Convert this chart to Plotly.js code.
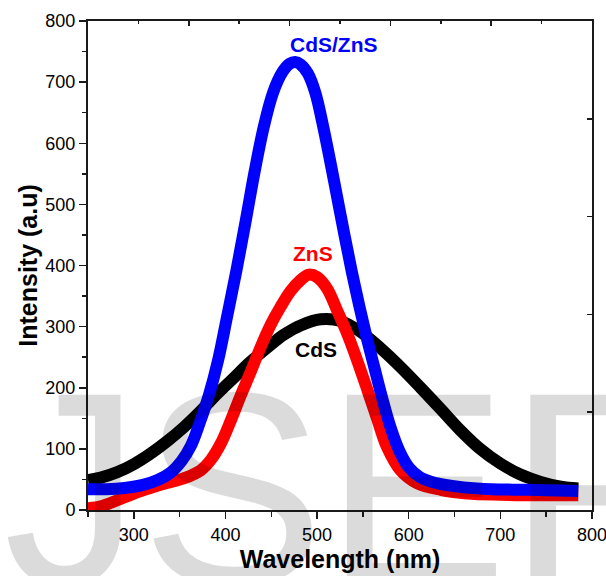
<!DOCTYPE html>
<html>
<head>
<meta charset="utf-8">
<script src="https://cdn.plot.ly/plotly-3.0.1.min.js"></script>
<style>
  html, body { margin: 0; padding: 0; background: #ffffff; }
  #chart { width: 606px; height: 576px; }
</style>
</head>
<body>
<div id="chart"></div>
<script>
// Wavelength (nm) and intensity (a.u.)
const cdsWavelength = [250, 264, 282, 300, 318, 336, 355, 373, 391, 409, 427, 446, 464, 482, 504, 526, 547, 569, 591, 613, 635, 656, 678, 700, 722, 744, 766, 785];
const cdsIntensity  = [49, 53, 62, 75, 92, 112, 136, 162, 190, 216, 242, 266, 287, 302, 312, 309, 292, 265, 234, 200, 165, 131, 100, 76, 58, 46, 38, 35];

const znsWavelength = [250, 264, 282, 300, 318, 336, 355, 373, 384, 395, 406, 416, 427, 438, 449, 460, 471, 482, 491, 500, 511, 522, 533, 542, 555, 566, 576, 591, 609, 635, 664, 700, 750, 785];
const znsIntensity  = [3, 6, 16, 27, 36, 44, 52, 65, 82, 109, 147, 185, 224, 265, 302, 332, 358, 376, 385, 381, 362, 326, 288, 252, 196, 147, 104, 65, 44, 33, 27, 25, 24, 24];

const coreShellWavelength = [250, 270, 290, 310, 326, 340, 352, 362, 372, 382, 392, 402, 412, 422, 432, 442, 452, 462, 470, 476, 482, 490, 498, 506, 514, 522, 530, 538, 546, 554, 562, 570, 580, 590, 600, 612, 625, 640, 660, 690, 730, 785];
const coreShellIntensity  = [34, 34, 36, 41, 49, 61, 80, 104, 143, 188, 245, 318, 392, 472, 555, 628, 683, 716, 730, 733, 729, 714, 683, 632, 573, 511, 449, 389, 334, 283, 236, 189, 136, 96, 70, 54, 46, 41, 37, 34, 33, 31];

const seriesNames = ["CdS", "ZnS", "CdS/ZnS"];
const seriesColors = ["#000000", "#ff0000", "#0000ff"];

const xTitle = "Wavelength (nm)";
const yTitle = "Intensity (a.u)";
const watermark = "IJSER";

const lineWidth = 12;
const traces = [
  {x: cdsWavelength, y: cdsIntensity, name: seriesNames[0]},
  {x: znsWavelength, y: znsIntensity, name: seriesNames[1]},
  {x: coreShellWavelength, y: coreShellIntensity, name: seriesNames[2]}
].map((t, i) => Object.assign(t, {
  type: "scatter", mode: "lines",
  line: {color: seriesColors[i], width: lineWidth, shape: "spline", smoothing: 1},
  showlegend: false, hoverinfo: "skip"
}));
// empty trace to host the mirrored top/right axes
traces.push({x: [], y: [], xaxis: "x2", yaxis: "y2", type: "scatter", mode: "lines", showlegend: false, hoverinfo: "skip"});

const tickFont = {family: "Liberation Sans, Arial, sans-serif", size: 18, color: "#000"};
const axisColor = "#1a1a1a";

const layout = {
  width: 606, height: 576,
  margin: {l: 88, r: 14, t: 21, b: 66, pad: 0},
  paper_bgcolor: "#ffffff", plot_bgcolor: "#ffffff",
  font: {family: "Liberation Sans, Arial, sans-serif", color: "#000"},
  xaxis: {
    range: [250, 800], dtick: 100, tick0: 300,
    ticks: "outside", ticklen: 7, tickwidth: 1.5, tickcolor: axisColor,
    minor: {dtick: 50, tick0: 250, ticks: "outside", ticklen: 5, tickwidth: 1.5, tickcolor: axisColor, showgrid: false},
    showline: true, linecolor: axisColor, linewidth: 2,
    showgrid: false, zeroline: false,
    tickfont: tickFont, ticklabeloverflow: "allow",
    title: {text: xTitle, font: {family: "Liberation Sans, Arial, sans-serif", size: 25, color: "#000", weight: "bold"}, standoff: 6}
  },
  yaxis: {
    range: [0, 800], dtick: 100,
    ticks: "outside", ticklen: 7, tickwidth: 1.5, tickcolor: axisColor,
    minor: {dtick: 50, ticks: "outside", ticklen: 4, tickwidth: 1.5, tickcolor: axisColor, showgrid: false},
    showline: true, linecolor: axisColor, linewidth: 2,
    showgrid: false, zeroline: false,
    tickfont: tickFont, ticklabeloverflow: "allow",
    title: {text: yTitle, font: {family: "Liberation Sans, Arial, sans-serif", size: 25, color: "#000", weight: "bold"}, standoff: 1}
  },
  xaxis2: {
    overlaying: "x", side: "top", anchor: "y2",
    range: [250, 800], tick0: 250, dtick: 110,
    ticks: "inside", ticklen: 5, tickwidth: 1.5, tickcolor: axisColor,
    minor: {dtick: 55, tick0: 250, ticks: "inside", ticklen: 3, tickwidth: 1.5, tickcolor: axisColor, showgrid: false},
    showline: true, linecolor: axisColor, linewidth: 2,
    showticklabels: false, showgrid: false, zeroline: false
  },
  yaxis2: {
    overlaying: "y", side: "right", anchor: "x2",
    range: [0, 800], tick0: 0, dtick: 160,
    ticks: "inside", ticklen: 5, tickwidth: 1.5, tickcolor: axisColor,
    showline: true, linecolor: axisColor, linewidth: 2,
    showticklabels: false, showgrid: false, zeroline: false
  },
  annotations: [
    {x: 518, y: 761, xref: "x", yref: "y", text: seriesNames[2], showarrow: false,
     font: {family: "Liberation Sans, Arial, sans-serif", size: 21, color: seriesColors[2], weight: "bold"}},
    {x: 495, y: 419, xref: "x", yref: "y", text: seriesNames[1], showarrow: false,
     font: {family: "Liberation Sans, Arial, sans-serif", size: 21, color: seriesColors[1], weight: "bold"}},
    {x: 499, y: 263, xref: "x", yref: "y", text: seriesNames[0], showarrow: false,
     font: {family: "Liberation Sans, Arial, sans-serif", size: 21, color: seriesColors[0], weight: "bold"}},
    {x: 0.4532, y: 0.0438, xref: "paper", yref: "paper", xanchor: "center", yanchor: "middle",
     text: watermark, showarrow: false,
     font: {family: "Liberation Sans, Arial, sans-serif", size: 275, color: "rgba(0,0,0,0.14)"}}
  ]
};

Plotly.newPlot("chart", traces, layout, {displayModeBar: false, staticPlot: true});
</script>
</body>
</html>
